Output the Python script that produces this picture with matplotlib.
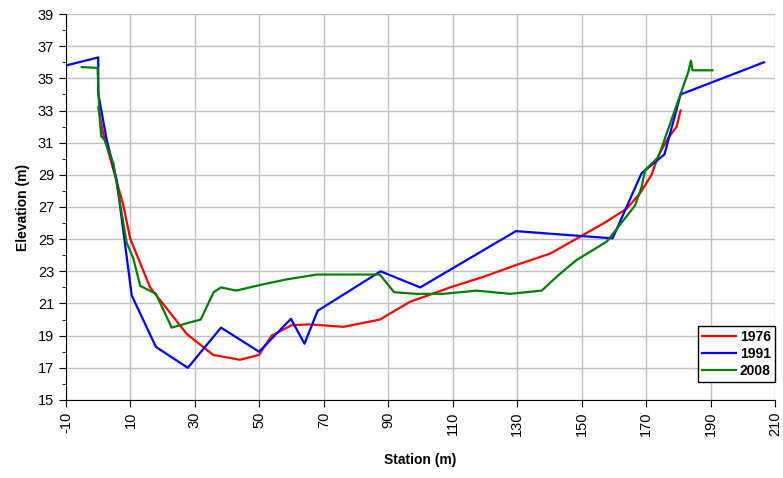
import matplotlib.pyplot as plt
import numpy as np

plt.rcParams['font.family'] = ['Liberation Sans', 'DejaVu Sans']
plt.rcParams['axes.unicode_minus'] = False

# 1976 survey
x76 = [0, 1.5, 7.8, 9.9, 16.1, 27.5, 35.7, 44, 49.9, 53.8, 60, 65.7, 76.1, 87.4,
       96.7, 109.2, 119.4, 129.8, 140.2, 149.5, 157.8, 164, 168.1, 171.7, 173.8,
       176.9, 179.5, 180.7]
y76 = [33.2, 31.6, 27.1, 25.05, 22.0, 19.1, 17.8, 17.5, 17.8, 19.0, 19.65, 19.7,
       19.55, 20.0, 21.1, 22.0, 22.65, 23.4, 24.1, 25.15, 26.1, 26.9, 27.85, 29.0,
       30.2, 31.3, 32.0, 33.0]

# 1991 survey
x91 = [-10, 0, 0, 2.6, 5.7, 10.4, 17.9, 27.8, 38.1, 49.9, 59.8, 64, 68.1, 87.6,
       99.9, 129.6, 159.6, 168.6, 175.7, 180.7, 206.6]
y91 = [35.8, 36.3, 34.07, 31.2, 28.7, 21.5, 18.3, 17.0, 19.5, 18.0, 20.05, 18.5,
       20.55, 23.0, 22.0, 25.5, 25.05, 29.1, 30.27, 34.0, 36.0]

# 2008 survey
x08 = [-5.1, -0.2, 0.3, 0.9, 1.9, 4.7, 8.8, 10.9, 13, 17.9, 22.8, 28, 31.8, 35.8,
       38.1, 42.8, 50.2, 58.5, 67.8, 87.4, 91.8, 98.8, 107.1, 117.4, 127.8, 137.6,
       143, 148.4, 157.8, 166.6, 168.6, 169.7, 173.8, 183.1, 183.9, 184.4, 190.6]
y08 = [35.7, 35.65, 33.0, 31.4, 31.2, 29.7, 24.8, 23.8, 22.1, 21.6, 19.5, 19.8,
       20.0, 21.7, 22.0, 21.8, 22.15, 22.5, 22.8, 22.8, 21.7, 21.6, 21.6, 21.8,
       21.6, 21.8, 22.8, 23.7, 24.85, 27.1, 28.25, 29.3, 30.1, 35.4, 36.1, 35.5,
       35.5]

fig = plt.figure(figsize=(7.83, 4.78), dpi=100)
ax = fig.add_axes([0.0843, 0.1632, 0.9055, 0.8075])

ax.plot(x76, y76, color='#ff0000', lw=1.6, label='1976')
ax.plot(x91, y91, color='#0000ff', lw=1.6, label='1991')
ax.plot(x08, y08, color='#008000', lw=1.6, label='2008')

ax.set_xlim(-10, 210)
ax.set_ylim(15, 39)
ax.set_xticks(np.arange(-10, 211, 20))
ax.set_yticks(np.arange(15, 40, 2))
ax.set_yticks(np.arange(15, 40, 1), minor=True)
ax.tick_params(axis='x', labelrotation=90, labelsize=10.5, direction='out', length=5)
ax.tick_params(axis='y', labelsize=10.5, direction='out', length=5)
ax.tick_params(axis='y', which='minor', direction='out', length=3)
ax.grid(True, color='#c0c0c0', lw=1)
ax.set_axisbelow(True)
for s in ['top', 'right']:
    ax.spines[s].set_visible(False)

ax.set_xlabel('Station (m)', fontweight='bold', fontsize=10, labelpad=12)
ax.set_ylabel('Elevation (m)', fontweight='bold', fontsize=10, labelpad=6)

leg = ax.legend(loc='lower right', prop={'weight': 'bold', 'size': 10},
                frameon=True, fancybox=False, edgecolor='black', framealpha=1,
                handlelength=2.4, handletextpad=0.3, borderpad=0.3, labelspacing=0.2,
                borderaxespad=0, bbox_to_anchor=(1.0, 0.047))
leg.get_frame().set_linewidth(1)

fig.savefig('out.png', dpi=100)
